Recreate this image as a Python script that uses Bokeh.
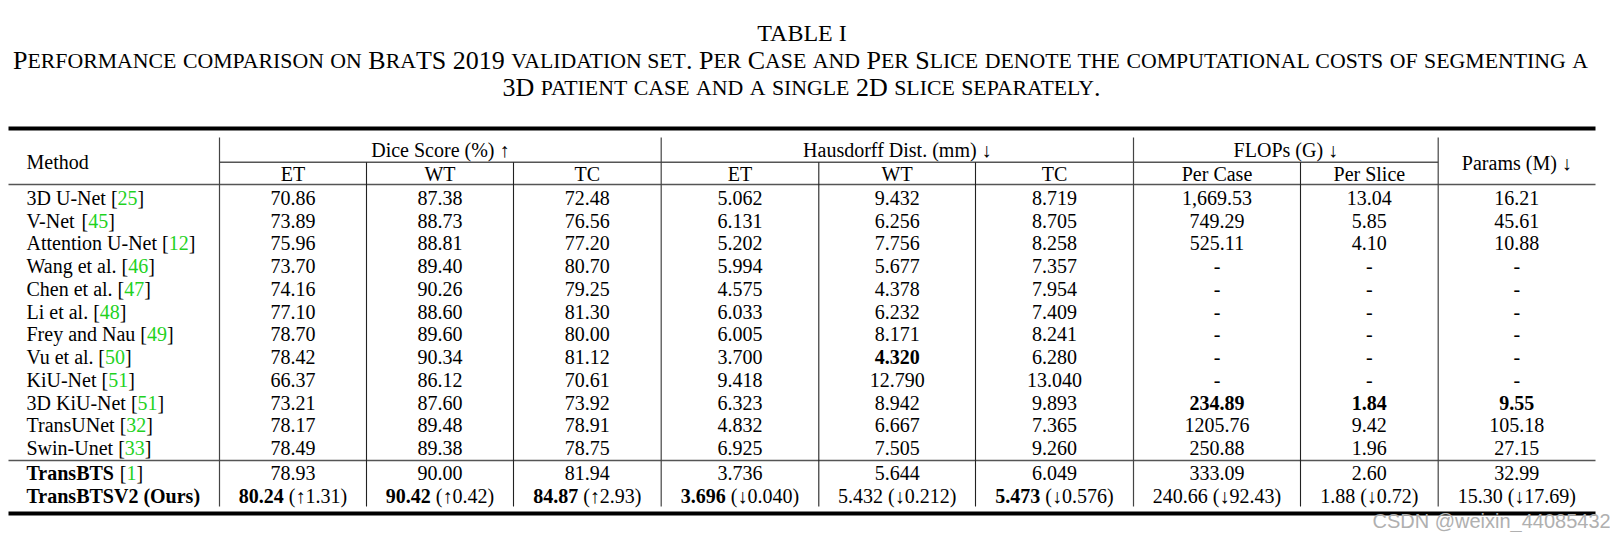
from bokeh.plotting import figure
from bokeh.models import Range1d
from bokeh.embed import file_html
from bokeh.resources import INLINE
from bokeh.core.properties import value

# ---------------- data ----------------
title = "TABLE I"
caption_lines = [
    "Performance comparison on BraTS 2019 validation set. Per Case and Per Slice denote the computational costs of segmenting a",
    "3D patient case and a single 2D slice separately.",
]
group_headers = ["Dice Score (%) \u2191", "Hausdorff Dist. (mm) \u2193", "FLOPs (G) \u2193"]
sub_headers = ["ET", "WT", "TC", "ET", "WT", "TC", "Per Case", "Per Slice"]
method_header = "Method"
params_header = "Params (M) \u2193"

methods = ["3D U-Net", "V-Net", "Attention U-Net", "Wang et al.", "Chen et al.", "Li et al.",
           "Frey and Nau", "Vu et al.", "KiU-Net", "3D KiU-Net", "TransUNet", "Swin-Unet",
           "TransBTS", "TransBTSV2 (Ours)"]
refs = ["25", "45", "12", "46", "47", "48", "49", "50", "51", "51", "32", "33", "1", ""]
method_bold = [False] * 12 + [True, True]

dice_et = ["70.86", "73.89", "75.96", "73.70", "74.16", "77.10", "78.70", "78.42", "66.37", "73.21", "78.17", "78.49", "78.93", "80.24"]
dice_wt = ["87.38", "88.73", "88.81", "89.40", "90.26", "88.60", "89.60", "90.34", "86.12", "87.60", "89.48", "89.38", "90.00", "90.42"]
dice_tc = ["72.48", "76.56", "77.20", "80.70", "79.25", "81.30", "80.00", "81.12", "70.61", "73.92", "78.91", "78.75", "81.94", "84.87"]
hd_et = ["5.062", "6.131", "5.202", "5.994", "4.575", "6.033", "6.005", "3.700", "9.418", "6.323", "4.832", "6.925", "3.736", "3.696"]
hd_wt = ["9.432", "6.256", "7.756", "5.677", "4.378", "6.232", "8.171", "4.320", "12.790", "8.942", "6.667", "7.505", "5.644", "5.432"]
hd_tc = ["8.719", "8.705", "8.258", "7.357", "7.954", "7.409", "8.241", "6.280", "13.040", "9.893", "7.365", "9.260", "6.049", "5.473"]
flops_case = ["1,669.53", "749.29", "525.11", "-", "-", "-", "-", "-", "-", "234.89", "1205.76", "250.88", "333.09", "240.66"]
flops_slice = ["13.04", "5.85", "4.10", "-", "-", "-", "-", "-", "-", "1.84", "9.42", "1.96", "2.60", "1.88"]
params = ["16.21", "45.61", "10.88", "-", "-", "-", "-", "-", "-", "9.55", "105.18", "27.15", "32.99", "15.30"]

# improvement of TransBTSV2 over TransBTS (last row), per value column
last_delta = ["\u21911.31", "\u21910.42", "\u21912.93", "\u21930.040", "\u21930.212", "\u21930.576",
              "\u219392.43", "\u21930.72", "\u219317.69"]
# bold (best) cells: (row, column)
bold_cells = [(7, 4), (9, 6), (9, 7), (9, 8), (13, 0), (13, 1), (13, 2), (13, 3), (13, 5)]

watermark = "CSDN @weixin_44085432"

columns = [dice_et, dice_wt, dice_tc, hd_et, hd_wt, hd_tc, flops_case, flops_slice, params]

# ---------------- font metrics (Times / Liberation Serif) ----------------
REG = dict(zip("ABCDEFGHIJKLMNOPQRSTUVWXYZ",
               [722, 667, 667, 722, 611, 556, 722, 722, 333, 389, 722, 611, 889, 722, 722, 556, 722, 667, 556, 611, 722, 722, 944, 722, 722, 611]))
REG.update(dict(zip("abcdefghijklmnopqrstuvwxyz",
                    [444, 500, 444, 500, 444, 333, 500, 500, 278, 278, 500, 278, 778, 500, 500, 500, 500, 333, 389, 278, 500, 500, 722, 500, 500, 444])))
REG.update({" ": 250, ".": 250, ",": 250, "-": 333, "[": 333, "]": 333, "(": 333, ")": 333,
            "\u2191": 500, "\u2193": 500, "%": 833})
for d in "0123456789":
    REG[d] = 500
BOLD = dict(zip("ABCDEFGHIJKLMNOPQRSTUVWXYZ",
                [722, 667, 722, 722, 667, 611, 778, 778, 389, 500, 778, 667, 944, 722, 778, 611, 778, 722, 556, 667, 722, 722, 1000, 722, 722, 667]))
BOLD.update(dict(zip("abcdefghijklmnopqrstuvwxyz",
                     [500, 556, 444, 556, 444, 333, 500, 556, 278, 333, 556, 278, 833, 556, 500, 556, 556, 444, 389, 333, 556, 500, 722, 500, 500, 444])))
BOLD.update({" ": 250, ".": 250, ",": 250, "-": 333, "[": 333, "]": 333, "(": 333, ")": 333})
for d in "0123456789":
    BOLD[d] = 500

KERN = {"AT": -111, "AV": -135, "AW": -90, "AY": -105, "AC": -40, "AG": -40, "AO": -55, "AQ": -55, "AU": -55,
        "BA": -35, "DA": -40, "DV": -40, "DW": -30, "DY": -55, "FA": -74, "LT": -92, "LV": -100, "LW": -74,
        "LY": -100, "NA": -35, "OA": -35, "OT": -40, "OV": -50, "OW": -35, "OX": -40, "OY": -50, "PA": -92,
        "RT": -60, "RV": -80, "RW": -55, "RY": -65, "RO": -40, "RU": -40, "TA": -93, "TO": -18, "VA": -135,
        "VO": -40, "WA": -120, "YA": -120, "YO": -30, "Vu": -75, "Wa": -80, "Tr": -35}


def tw(s, size, bold=False):
    t = BOLD if bold else REG
    w = sum(t.get(c, 500) for c in s)
    w += sum(KERN.get(s[i:i + 2], 0) for i in range(len(s) - 1))
    return w * size / 1000.0


FONT = "Liberation Serif"
BODY = 20
GREEN = "#1fd21f"
DY = -0.25  # baseline correction, fraction of font size

# ---------------- layout (page pixels) ----------------
W, H = 1610, 532
X_LEFT, X_RIGHT = 8, 1595
V_MAIN = [219, 660.7, 1133, 1437.7]
V_SUB = [366, 513, 818.3, 975, 1300]
col_edges = [219, 366, 513, 660.7, 818.3, 975, 1133, 1300, 1437.7, 1595]
col_centers = [(col_edges[i] + col_edges[i + 1]) / 2 for i in range(9)]
group_centers = [(219 + 660.7) / 2, (660.7 + 1133) / 2, (1133 + 1437.7) / 2]
row_base = [202.3 + 22.75 * i for i in range(12)] + [477.4, 500.2]

p = figure(width=W, height=H, x_range=Range1d(0, W), y_range=Range1d(H, 0),
           output_backend="svg", toolbar_location=None, min_border=0,
           x_axis_location=None, y_axis_location=None)
p.grid.visible = False
p.outline_line_color = None
p.background_fill_color = "white"
p.border_fill_color = "white"

# rules
p.segment(x0=[X_LEFT, X_LEFT], y0=[128, 513], x1=[X_RIGHT, X_RIGHT], y1=[128, 513],
          line_color="black", line_width=4)
p.segment(x0=[219, X_LEFT, X_LEFT], y0=[161.7, 184, 460], x1=[1437.7, X_RIGHT, X_RIGHT], y1=[161.7, 184, 460],
          line_color="#555555", line_width=1.5)
p.segment(x0=V_MAIN, y0=[137] * 4, x1=V_MAIN, y1=[506] * 4, line_color="#444444", line_width=1.2)
p.segment(x0=V_SUB, y0=[161.7] * 5, x1=V_SUB, y1=[506] * 5, line_color="#222222", line_width=1.1)

# text collectors
groups = {}


def add(x, y, t, size=BODY, bold=False, color="black", align="left", font=FONT):
    key = (size, bold, color, align, font)
    g = groups.setdefault(key, ([], [], []))
    g[0].append(x)
    g[1].append(y + DY * size)
    g[2].append(t)


# title
add(801.5, 38.3, title, size=24, align="center")

# small-caps caption
F, S = 26, 21.8


def caption(line, y, cx):
    pieces = []
    x = 0.0
    cur, cur_small, cur_x = "", None, 0.0
    prev = ""
    for ch in line:
        if ch == " ":
            if cur:
                pieces.append((cur, cur_small, cur_x))
                cur = ""
            x += 250 * F / 1000.0
            prev = ""
            continue
        small = ch.islower()
        if cur and small != cur_small:
            pieces.append((cur, cur_small, cur_x))
            cur = ""
            prev = ""
        if not cur:
            cur_x, cur_small = x, small
        size = S if small else F
        up = ch.upper()
        if prev:
            x += KERN.get(prev + up, 0) * size / 1000.0
        cur += ch
        x += REG.get(up, 500) * size / 1000.0
        prev = up
    if cur:
        pieces.append((cur, cur_small, cur_x))
    left = cx - x / 2
    for t, sm, ox in pieces:
        add(left + ox, y, t.upper(), size=(S if sm else F))


caption(caption_lines[0], 66, 800)
caption(caption_lines[1], 93.3, 801)

# headers
add(26, 166.5, method_header)
for c, t in zip(group_centers, group_headers):
    add(c, 154.3, t, align="center")
for c, t in zip(col_centers[:8], sub_headers):
    add(c, 178.3, t, align="center")
add(col_centers[8], 167, params_header, align="center")

# method column
for i, (m, r, b) in enumerate(zip(methods, refs, method_bold)):
    y = row_base[i]
    x = 26
    add(x, y, m, bold=b)
    if r:
        x += tw(m, BODY, b) + tw(" ", BODY)
        add(x, y, "[")
        x += tw("[", BODY)
        add(x, y, r, color=GREEN)
        x += tw(r, BODY)
        add(x, y, "]")

# value cells
nrows = len(methods)
for j, col in enumerate(columns):
    cx = col_centers[j]
    for i, v in enumerate(col):
        y = row_base[i]
        b = (i, j) in bold_cells
        if i == nrows - 1:
            d = "(" + last_delta[j] + ")"
            total = tw(v, BODY, b) + tw(" ", BODY) + tw(d, BODY)
            left = cx - total / 2
            add(left, y, v, bold=b)
            add(left + tw(v, BODY, b) + tw(" ", BODY), y, d)
        else:
            add(cx, y, v, bold=b, align="center")

# watermark
add(1372, 525, watermark, size=20, color="#b0b0b0", font="Liberation Sans")

for (size, bold, color, align, font), (xs, ys, ts) in groups.items():
    p.text(x=xs, y=ys, text=ts, text_font=value(font), text_font_size=f"{size}px",
           text_font_style="bold" if bold else "normal", text_color=color,
           text_align=align, text_baseline="alphabetic")

open("out.html", "w").write(file_html(p, INLINE))
